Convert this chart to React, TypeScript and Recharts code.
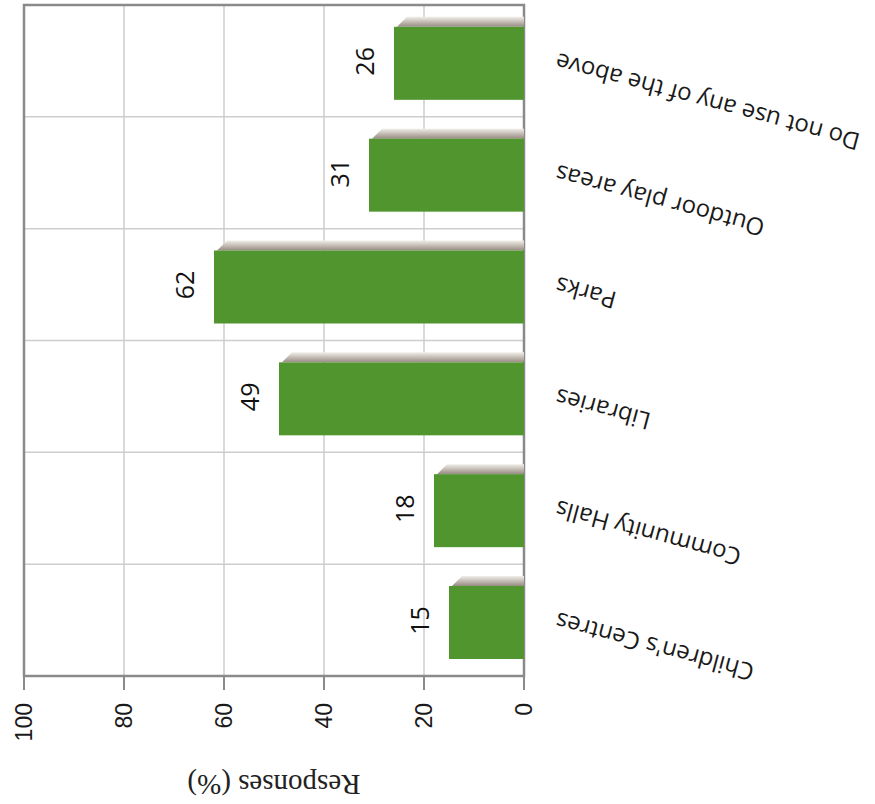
import React from 'react';
import {
  BarChart,
  Bar,
  XAxis,
  YAxis,
  CartesianGrid,
  LabelList,
  ReferenceArea,
} from 'recharts';

// survey: which facilities are used (the chart is drawn as columns, then turned 90° left)
const categories = [
  "Children's Centres",
  'Community Halls',
  'Libraries',
  'Parks',
  'Outdoor play areas',
  'Do not use any of the above',
];
const responses = [15, 18, 49, 62, 31, 26];
const valueTicks = [0, 20, 40, 60, 80, 100];

const data = categories.map((name, i) => ({ name, value: responses[i] }));

const CHART_W = 804;
const CHART_H = 875;
const GREEN = '#51952f';
const BORDER = '#8a8a8a';
const GRID = '#cdcdcd';

const ShadowBar = (props: any) => {
  const { x, y, width, height } = props;
  if (!height || height <= 0) return null;
  const bx = x - 2;
  const r = bx + width;
  return (
    <g>
      <polygon
        points={`${r},${y + 3} ${r + 10},${y + 13} ${r + 10},${y + height} ${r},${y + height}`}
        fill="url(#barShadow)"
      />
      <rect x={bx} y={y} width={width} height={height} fill={GREEN} />
    </g>
  );
};

const CategoryTick = (props: any) => {
  const { x, y, payload } = props;
  return (
    <text
      x={x}
      y={y + 24}
      dy="0.35em"
      textAnchor="end"
      transform={`rotate(-75, ${x}, ${y + 24})`}
      fontSize={24}
      fontFamily="'Open Sans', sans-serif"
      fill="#1a1a1a"
    >
      {payload.value}
    </text>
  );
};

const AxisTitle = (props: any) => {
  const vb = props.viewBox || { x: 0, y: 24, width: 128, height: 500 };
  const cx = 19;
  const cy = vb.y + vb.height / 2;
  return (
    <text
      x={cx}
      y={cy}
      textAnchor="middle"
      dominantBaseline="central"
      transform={`rotate(-90, ${cx}, ${cy})`}
      fontSize={29}
      fontFamily="'Liberation Serif', serif"
      fill="#222"
    >
      Responses (%)
    </text>
  );
};

export default function App() {
  return (
    <div
      style={{
        position: 'absolute',
        left: 0,
        top: 0,
        width: 875,
        height: 804,
        overflow: 'hidden',
        background: '#fff',
      }}
    >
      <div
        style={{
          width: CHART_W,
          height: CHART_H,
          transformOrigin: '0 0',
          transform: `translateY(${CHART_W}px) rotate(-90deg)`,
        }}
      >
        <BarChart
          width={CHART_W}
          height={CHART_H}
          data={data}
          margin={{ top: 24, right: 5, left: 0, bottom: 0 }}
        >
          <defs>
            <linearGradient id="barShadow" x1="0" y1="0" x2="1" y2="0">
              <stop offset="0%" stopColor="#978b82" />
              <stop offset="100%" stopColor="#f1eee9" />
            </linearGradient>
          </defs>
          <CartesianGrid
            stroke={GRID}
            strokeWidth={1.5}
            verticalCoordinatesGenerator={(p: any) => {
              const o = p && p.offset ? p.offset : { left: 128, width: 671 };
              return [1, 2, 3, 4, 5].map((i) => o.left + (i * o.width) / categories.length);
            }}
          />
          <XAxis
            dataKey="name"
            interval={0}
            height={351}
            tickLine={false}
            axisLine={false}
            tick={<CategoryTick />}
          />
          <YAxis
            domain={[0, 100]}
            ticks={valueTicks}
            width={128}
            tickSize={14}
            tickMargin={13}
            tickLine={{ stroke: BORDER, strokeWidth: 2 }}
            axisLine={false}
            tick={{ fontSize: 23, fill: '#1a1a1a', fontFamily: "'Liberation Sans', Arial, sans-serif" }}
            label={<AxisTitle />}
          />
          <ReferenceArea
            y1={0}
            y2={100}
            fill="none"
            stroke={BORDER}
            strokeWidth={2.5}
            ifOverflow="visible"
          />
          <Bar dataKey="value" barSize={73} shape={<ShadowBar />} isAnimationActive={false}>
            <LabelList
              dataKey="value"
              position="top"
              offset={20}
              fill="#111"
              fontSize={25}
              fontFamily="'Open Sans', sans-serif"
            />
          </Bar>
        </BarChart>
      </div>
    </div>
  );
}
